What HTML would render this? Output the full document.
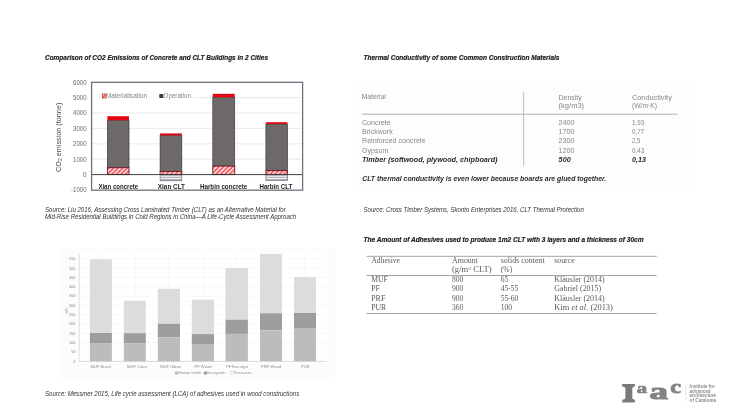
<!DOCTYPE html>
<html><head><meta charset="utf-8"><title>CLT slide</title>
<style>
html,body{margin:0;padding:0;background:#fff;width:730px;height:411px;overflow:hidden}
svg{display:block;filter:blur(0.3px)}
text{font-family:"Liberation Sans",sans-serif}
.bi{font-weight:bold;font-style:italic}
.it{font-style:italic}
.serif text,text.serif{font-family:"Liberation Serif",serif}
</style></head>
<body>
<svg width="730" height="411" viewBox="0 0 730 411">
<defs>
<pattern id="hatch" patternUnits="userSpaceOnUse" width="3.2" height="3.2" patternTransform="rotate(45)">
<rect width="3.2" height="3.2" fill="#ffd2d4"/>
<rect width="1.5" height="3.2" fill="#ec5a60"/>
</pattern>
<pattern id="hstripe" patternUnits="userSpaceOnUse" width="4" height="2">
<rect width="4" height="2" fill="#f4f5f8"/>
<rect width="4" height="1" fill="#b8bcc6"/>
</pattern>
</defs>

<!-- ===== Titles ===== -->
<g class="bi" font-size="7.3" fill="#1c1c1c" stroke="#1c1c1c" stroke-width="0.2">
<text x="45" y="59.7" textLength="223" lengthAdjust="spacingAndGlyphs">Comparison of CO2 Emissions of Concrete and CLT Buildings in 2 Cities</text>
<text x="363.5" y="59.8" textLength="196" lengthAdjust="spacingAndGlyphs">Thermal Conductivity of some Common Construction Materials</text>
<text x="363.5" y="241.9" textLength="280" lengthAdjust="spacingAndGlyphs">The Amount of Adhesives used to produce 1m2 CLT with 3 layers and a thickness of 30cm</text>
</g>

<!-- ===== Sources ===== -->
<g class="it" font-size="6.3" fill="#333">
<text x="45" y="211.8" textLength="240.7" lengthAdjust="spacingAndGlyphs">Source: Liu 2016, Assessing Cross Laminated Timber (CLT) as an Alternative Material for</text>
<text x="45" y="219" textLength="251.2" lengthAdjust="spacingAndGlyphs">Mid-Rise Residential Buildings in Cold Regions in China—A Life-Cycle Assessment Approach</text>
<text x="363.5" y="211.8" textLength="220.3" lengthAdjust="spacingAndGlyphs">Source: Cross Timber Systems, Skonto Enterprises 2016, CLT Thermal Protection</text>
<text x="45" y="395.9" textLength="254.2" lengthAdjust="spacingAndGlyphs">Source: Messmer 2015, Life cycle assessment (LCA) of adhesives used in wood constructions</text>
</g>

<!-- ===== Chart 1 ===== -->
<g id="chart1">
<!-- gridlines -->
<g stroke="#e4e4e4" stroke-width="0.8">
<line x1="92" y1="97.6" x2="302" y2="97.6"/>
<line x1="92" y1="113" x2="302" y2="113"/>
<line x1="92" y1="128.4" x2="302" y2="128.4"/>
<line x1="92" y1="143.8" x2="302" y2="143.8"/>
<line x1="92" y1="159.2" x2="302" y2="159.2"/>
</g>
<!-- y labels -->
<g font-size="6.8" fill="#6a6a6a" text-anchor="end">
<text x="86.6" y="84.6" textLength="13.6" lengthAdjust="spacingAndGlyphs">6000</text>
<text x="86.6" y="100" textLength="13.6" lengthAdjust="spacingAndGlyphs">5000</text>
<text x="86.6" y="115.4" textLength="13.6" lengthAdjust="spacingAndGlyphs">4000</text>
<text x="86.6" y="130.8" textLength="13.6" lengthAdjust="spacingAndGlyphs">3000</text>
<text x="86.6" y="146.2" textLength="13.6" lengthAdjust="spacingAndGlyphs">2000</text>
<text x="86.6" y="161.6" textLength="13.6" lengthAdjust="spacingAndGlyphs">1000</text>
<text x="86.6" y="177">0</text>
<text x="86.6" y="192.4" textLength="15.6" lengthAdjust="spacingAndGlyphs">-1000</text>
</g>
<!-- y title -->
<text transform="translate(61.3,137.3) rotate(-90)" font-size="7.25" fill="#484848" text-anchor="middle">CO<tspan font-size="5" dy="1">2</tspan><tspan dy="-1"> emission (tonne)</tspan></text>
<!-- legend -->
<rect x="92.3" y="91" width="100.7" height="10" fill="#fff"/>
<rect x="102.3" y="94" width="3.6" height="4" fill="url(#hatch)" stroke="#d02030" stroke-width="0.7"/>
<text x="106" y="98.4" font-size="6.6" fill="#858585" textLength="41" lengthAdjust="spacingAndGlyphs">Materialisation</text>
<rect x="159.3" y="94" width="4" height="4" fill="#3c3c3c"/>
<text x="163.6" y="98.4" font-size="6.6" fill="#858585" textLength="27.3" lengthAdjust="spacingAndGlyphs">Operation</text>

<!-- bars -->
<g stroke="#3a3a3a" stroke-width="0.7">
<!-- bar1 -->
<rect x="107.4" y="120.3" width="21.6" height="47.4" fill="#6d6969"/>
<rect x="107.4" y="167.7" width="21.6" height="6.9" fill="url(#hatch)" stroke="#701522" stroke-width="0.9"/>
<!-- bar2 -->
<rect x="160.1" y="135.4" width="21.7" height="36" fill="#6d6969"/>
<rect x="160.1" y="171.4" width="21.7" height="3.2" fill="url(#hatch)" stroke="#701522" stroke-width="0.9"/>
<rect x="160.1" y="174.6" width="21.7" height="6.2" fill="#a9adb5" stroke="#74767c"/>
<rect x="160.6" y="175.7" width="20.7" height="1.1" fill="#f6f6f8" stroke="none"/>
<rect x="160.6" y="177.9" width="20.7" height="1.1" fill="#f6f6f8" stroke="none"/>
<!-- bar3 -->
<rect x="212.8" y="97.2" width="21.9" height="68.9" fill="#6d6969"/>
<rect x="212.8" y="166.1" width="21.9" height="8.5" fill="url(#hatch)" stroke="#701522" stroke-width="0.9"/>
<!-- bar4 -->
<rect x="265.9" y="124" width="21.5" height="46.6" fill="#6d6969"/>
<rect x="265.9" y="170.6" width="21.5" height="4" fill="url(#hatch)" stroke="#701522" stroke-width="0.9"/>
<rect x="265.9" y="174.6" width="21.5" height="5.8" fill="#a9adb5" stroke="#74767c"/>
<rect x="266.4" y="175.7" width="20.5" height="1.1" fill="#f6f6f8" stroke="none"/>
<rect x="266.4" y="177.9" width="20.5" height="1.1" fill="#f6f6f8" stroke="none"/>
</g>
<g fill="#e30613">
<rect x="107.4" y="116.2" width="21.6" height="4.1"/>
<rect x="160.1" y="133.4" width="21.7" height="2.1"/>
<rect x="212.8" y="93.8" width="21.9" height="3.4"/>
<rect x="265.9" y="122.2" width="21.5" height="1.8"/>
</g>
<!-- zero line -->
<line x1="91.5" y1="174.6" x2="302.6" y2="174.6" stroke="#2a2a2a" stroke-width="0.9"/>
<!-- frame -->
<rect x="91.6" y="82.3" width="211" height="107.9" fill="none" stroke="#6f727d" stroke-width="1.3"/>
<!-- x labels -->
<g font-size="7" font-weight="bold" fill="#1e1e1e">
<text x="98.4" y="189.3" textLength="39.8" lengthAdjust="spacingAndGlyphs">Xian concrete</text>
<text x="157.8" y="189.3" textLength="27.2" lengthAdjust="spacingAndGlyphs">Xian CLT</text>
<text x="200" y="189.3" textLength="47.3" lengthAdjust="spacingAndGlyphs">Harbin concrete</text>
<text x="259.4" y="189.3" textLength="33" lengthAdjust="spacingAndGlyphs">Harbin CLT</text>
</g>
</g>

<!-- ===== Thermal table ===== -->
<g id="thermal">
<rect x="354" y="80" width="341" height="112" fill="#fdfdfd"/>
<line x1="362" y1="114.2" x2="677.5" y2="114.2" stroke="#a8a8a8" stroke-width="0.9"/>
<line x1="523.7" y1="91.8" x2="523.7" y2="166.2" stroke="#ababab" stroke-width="0.8"/>
<g font-size="7.6" fill="#878787">
<text x="361.5" y="99.3" textLength="24.4" lengthAdjust="spacingAndGlyphs">Material</text>
<text x="558.6" y="99.5" textLength="23" lengthAdjust="spacingAndGlyphs">Density</text>
<text x="558.6" y="108.2" textLength="25.5" lengthAdjust="spacingAndGlyphs">(kg/m3)</text>
<text x="632" y="99.5" textLength="39.8" lengthAdjust="spacingAndGlyphs">Conductivity</text>
<text x="632" y="108.2" textLength="25" lengthAdjust="spacingAndGlyphs">(W/m·K)</text>
<text x="362" y="124.6" textLength="28.8" lengthAdjust="spacingAndGlyphs">Concrete</text>
<text x="362" y="133.9" textLength="30.7" lengthAdjust="spacingAndGlyphs">Brickwork</text>
<text x="362" y="143.2" textLength="63.8" lengthAdjust="spacingAndGlyphs">Reinforced concrete</text>
<text x="362" y="152.5" textLength="26.3" lengthAdjust="spacingAndGlyphs">Gypsum</text>
<text x="558.6" y="124.6" textLength="15.9" lengthAdjust="spacingAndGlyphs">2400</text>
<text x="558.6" y="133.9" textLength="15.9" lengthAdjust="spacingAndGlyphs">1700</text>
<text x="558.6" y="143.2" textLength="15.9" lengthAdjust="spacingAndGlyphs">2300</text>
<text x="558.6" y="152.5" textLength="15.9" lengthAdjust="spacingAndGlyphs">1200</text>
<text x="632" y="124.6" textLength="12.3" lengthAdjust="spacingAndGlyphs">1,93</text>
<text x="632" y="133.9" textLength="12.3" lengthAdjust="spacingAndGlyphs">0,77</text>
<text x="632" y="143.2" textLength="8.3" lengthAdjust="spacingAndGlyphs">2,5</text>
<text x="632" y="152.5" textLength="12.3" lengthAdjust="spacingAndGlyphs">0,43</text>
</g>
<g class="bi" font-size="7.5" fill="#2a2a2a">
<text x="362" y="162" textLength="135.5" lengthAdjust="spacingAndGlyphs">Timber (softwood, plywood, chipboard)</text>
<text x="558.6" y="162" textLength="12.1" lengthAdjust="spacingAndGlyphs">500</text>
<text x="632" y="162" textLength="13.9" lengthAdjust="spacingAndGlyphs">0,13</text>
<text x="362.2" y="181.3" textLength="244" lengthAdjust="spacingAndGlyphs">CLT thermal conductivity is even lower because boards are glued together.</text>
</g>
</g>

<!-- ===== Adhesive table ===== -->
<g id="adh" class="serif">
<g stroke="#a3a3a3" stroke-width="1">
<line x1="366.5" y1="256.3" x2="656.7" y2="256.3"/>
<line x1="366.5" y1="275.5" x2="656.7" y2="275.5"/>
<line x1="366.5" y1="313.5" x2="656.7" y2="313.5"/>
</g>
<g font-size="7.6" fill="#5a5a5a">
<text x="371.4" y="262.9" textLength="28.6" lengthAdjust="spacingAndGlyphs">Adhesive</text>
<text x="452" y="262.9" textLength="26" lengthAdjust="spacingAndGlyphs">Amount</text>
<text x="500.7" y="262.9" textLength="44.1" lengthAdjust="spacingAndGlyphs">solids content</text>
<text x="554.3" y="262.9" textLength="20.3" lengthAdjust="spacingAndGlyphs">source</text>
<text x="452" y="272.3" textLength="39.7" lengthAdjust="spacingAndGlyphs">(g/m<tspan font-size="5" dy="-2.6">2</tspan><tspan dy="2.6"> CLT)</tspan></text>
<text x="500.7" y="272.3" textLength="11.5" lengthAdjust="spacingAndGlyphs">(%)</text>
<text x="371.2" y="282" textLength="16.6" lengthAdjust="spacingAndGlyphs">MUF</text>
<text x="371.2" y="291.4" textLength="8.8" lengthAdjust="spacingAndGlyphs">PF</text>
<text x="371.2" y="300.8" textLength="14.1" lengthAdjust="spacingAndGlyphs">PRF</text>
<text x="371.2" y="310.1" textLength="15.1" lengthAdjust="spacingAndGlyphs">PUR</text>
<text x="452" y="282">800</text>
<text x="452" y="291.4">900</text>
<text x="452" y="300.8">900</text>
<text x="452" y="310.1">360</text>
<text x="500.7" y="282">65</text>
<text x="500.7" y="291.4">45-55</text>
<text x="500.7" y="300.8">55-60</text>
<text x="500.7" y="310.1">100</text>
<text x="554.3" y="282" textLength="50.4" lengthAdjust="spacingAndGlyphs">Kläusler (2014)</text>
<text x="554.3" y="291.4" textLength="46.8" lengthAdjust="spacingAndGlyphs">Gabriel (2015)</text>
<text x="554.3" y="300.8" textLength="50.4" lengthAdjust="spacingAndGlyphs">Kläusler (2014)</text>
<text x="554.3" y="310.1" textLength="58.6" lengthAdjust="spacingAndGlyphs">Kim <tspan font-style="italic">et al.</tspan>  (2013)</text>
</g>
</g>

<!-- ===== Chart 3 ===== -->
<g id="chart3">
<rect x="58" y="248" width="277" height="130" fill="#fcfcfc"/>
<rect x="79.3" y="253.9" width="247.4" height="107.5" fill="#fff"/>
<g stroke="#f2f2f2" stroke-width="0.6">
<line x1="79.3" y1="259" x2="326.7" y2="259"/>
<line x1="79.3" y1="268.3" x2="326.7" y2="268.3"/>
<line x1="79.3" y1="277.6" x2="326.7" y2="277.6"/>
<line x1="79.3" y1="286.9" x2="326.7" y2="286.9"/>
<line x1="79.3" y1="296.2" x2="326.7" y2="296.2"/>
<line x1="79.3" y1="305.5" x2="326.7" y2="305.5"/>
<line x1="79.3" y1="314.8" x2="326.7" y2="314.8"/>
<line x1="79.3" y1="324.1" x2="326.7" y2="324.1"/>
<line x1="79.3" y1="333.4" x2="326.7" y2="333.4"/>
<line x1="79.3" y1="342.7" x2="326.7" y2="342.7"/>
<line x1="79.3" y1="352" x2="326.7" y2="352"/>
<line x1="101" y1="253.9" x2="101" y2="361.4"/>
<line x1="135" y1="253.9" x2="135" y2="361.4"/>
<line x1="169" y1="253.9" x2="169" y2="361.4"/>
<line x1="203" y1="253.9" x2="203" y2="361.4"/>
<line x1="237" y1="253.9" x2="237" y2="361.4"/>
<line x1="271" y1="253.9" x2="271" y2="361.4"/>
<line x1="305" y1="253.9" x2="305" y2="361.4"/>
</g>
<!-- bars: light top -->
<g fill="#dcdcdc">
<rect x="89.9" y="259.2" width="22" height="74"/>
<rect x="123.8" y="300.8" width="22" height="32.5"/>
<rect x="157.8" y="288.8" width="22.2" height="35"/>
<rect x="191.8" y="299.7" width="22.2" height="34.4"/>
<rect x="225.5" y="268" width="22.4" height="52"/>
<rect x="260" y="253.9" width="22" height="59.5"/>
<rect x="294" y="277.1" width="22" height="36"/>
</g>
<g fill="#9d9d9d">
<rect x="89.9" y="333" width="22" height="10.6"/>
<rect x="123.8" y="333.2" width="22" height="10.3"/>
<rect x="157.8" y="323.8" width="22.2" height="13.6"/>
<rect x="191.8" y="334.1" width="22.2" height="9.9"/>
<rect x="225.5" y="319.8" width="22.4" height="14.1"/>
<rect x="260" y="313.3" width="22" height="17.1"/>
<rect x="294" y="313" width="22" height="15.7"/>
</g>
<g fill="#bcbcbc">
<rect x="89.9" y="343.6" width="22" height="17.8"/>
<rect x="123.8" y="343.5" width="22" height="17.9"/>
<rect x="157.8" y="337.4" width="22.2" height="24"/>
<rect x="191.8" y="344" width="22.2" height="17.4"/>
<rect x="225.5" y="333.9" width="22.4" height="27.5"/>
<rect x="260" y="330.4" width="22" height="31"/>
<rect x="294" y="328.7" width="22" height="32.7"/>
</g>
<line x1="79.3" y1="253.9" x2="79.3" y2="361.6" stroke="#d8d8d8" stroke-width="0.8"/>
<line x1="79.3" y1="361.4" x2="326.7" y2="361.4" stroke="#cfcfcf" stroke-width="0.8"/>
<g font-size="3.9" fill="#8a8a8a" text-anchor="end">
<text x="75.5" y="260.2">550</text>
<text x="75.5" y="269.5">500</text>
<text x="75.5" y="278.8">450</text>
<text x="75.5" y="288.1">400</text>
<text x="75.5" y="297.4">350</text>
<text x="75.5" y="306.7">300</text>
<text x="75.5" y="316">250</text>
<text x="75.5" y="325.3">200</text>
<text x="75.5" y="334.6">150</text>
<text x="75.5" y="343.9">100</text>
<text x="75.5" y="353.2">50</text>
<text x="75.5" y="362.5">0</text>
</g>
<text transform="translate(67.6,310.7) rotate(-90)" font-size="3.8" fill="#9a9a9a" text-anchor="middle">mPt</text>
<g font-size="4.1" fill="#8e8e8e" text-anchor="middle">
<text x="100.5" y="367.8">MUF Brazil</text>
<text x="137" y="367.8">MUF Coiro</text>
<text x="170.5" y="367.8">MUF Ulbax</text>
<text x="203" y="367.8">PF Wood</text>
<text x="237" y="367.8">PF Eucalypt</text>
<text x="271" y="367.8">PRF Wood</text>
<text x="305.5" y="367.8">PUR</text>
</g>
<g font-size="3.7" fill="#8e8e8e">
<rect x="175" y="371.5" width="3.2" height="3" fill="#bcbcbc"/>
<text x="178.5" y="374.4">Human health</text>
<rect x="203.8" y="371.5" width="3.2" height="3" fill="#9d9d9d"/>
<text x="207.3" y="374.4">Ecosystem</text>
<rect x="230.5" y="371.5" width="3.2" height="3" fill="#fff" stroke="#bbb" stroke-width="0.4"/>
<text x="234" y="374.4">Resources</text>
</g>
</g>

<!-- ===== Logo ===== -->
<g id="logo">
<path fill="#7b7b7b" d="M622.2 384.1H634.9V386.6Q632.6 386.8 632.3 388.2V398.2Q632.6 399.6 634.9 399.8V402.4H622.2V399.8Q624.9 399.6 625.4 398.2V388.2Q624.9 386.8 622.2 386.6Z"/>
<g fill="#838383" stroke="#838383" font-weight="bold">
<text class="serif" x="636.8" y="392.6" font-size="15.5" stroke-width="0.7" textLength="10.4" lengthAdjust="spacingAndGlyphs">a</text>
<text class="serif" x="649.6" y="399.1" font-size="23.5" stroke-width="1.1" textLength="18.4" lengthAdjust="spacingAndGlyphs">a</text>
<text class="serif" x="670.2" y="392.8" font-size="19.5" stroke-width="0.8" textLength="10.8" lengthAdjust="spacingAndGlyphs">c</text>
</g>
<line x1="685.9" y1="384.3" x2="685.9" y2="401" stroke="#dadada" stroke-width="0.7"/>
<g font-size="4.6" font-weight="bold" fill="#8c8c8c">
<text x="689.6" y="387.8" textLength="25.4" lengthAdjust="spacingAndGlyphs">Institute for</text>
<text x="689.6" y="392.6" textLength="21" lengthAdjust="spacingAndGlyphs">advanced</text>
<text x="689.6" y="397.3" textLength="26.6" lengthAdjust="spacingAndGlyphs">architecture</text>
<text x="689.6" y="402.2" textLength="26.6" lengthAdjust="spacingAndGlyphs">of Catalonia</text>
</g>
</g>
</svg>
</body></html>
